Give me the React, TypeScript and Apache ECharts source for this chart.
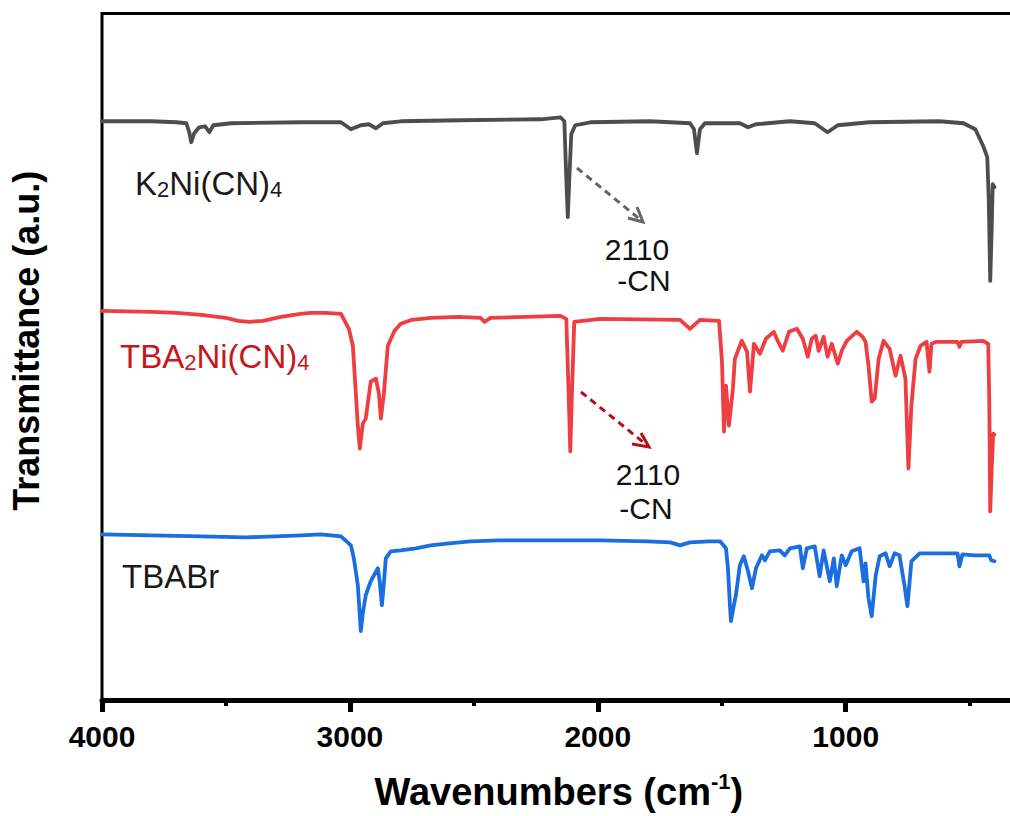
import React, { useEffect, useRef } from "react";
import * as echarts from "echarts";

// Wavenumbers (cm-1) and transmittance (a.u., stacked with offsets)
const k2niWavenumbers = [4000,3801,3700,3660,3648,3640,3628,3608,3584,3567,3551,3479,3197,3036,2996,2956,2924,2895,2867,2795,2553,2231,2151,2135,2127,2121,2115,2107,2091,2030,1789,1628,1612,1600,1588,1568,1427,1394,1362,1225,1125,1073,1032,904,622,525,477,445,429,423,417,411,407,400];
const k2niValues = [580,580,579,578,569,559,568,574,575,569,576,578,579,579,572,576,577,573,578,580,581,582,584,580,522,484,522,567,576,579,580,578,572,548,572,578,578,574,577,580,578,569,576,579,580,578,572,555,544,502,420,472,517,514];

const tbaNiWavenumbers = [4000,3801,3700,3600,3500,3450,3406,3350,3278,3200,3157,3100,3036,3004,2988,2968,2960,2948,2936,2916,2895,2883,2875,2863,2847,2820,2795,2750,2674,2561,2473,2457,2433,2151,2127,2117,2111,2105,2095,1990,1668,1628,1588,1511,1499,1491,1483,1471,1455,1447,1419,1398,1386,1370,1346,1322,1290,1278,1254,1229,1197,1173,1153,1137,1121,1109,1089,1073,1056,1032,1016,996,956,932,920,908,895,883,867,847,823,799,779,759,747,735,718,698,674,662,654,634,549,541,533,445,425,421,417,411,405,400];
const tbaNiValues = [390,389,388,386,383,380,379,380,384,387,388,388,387,372,355,275,252,277,282,319,322,307,282,307,355,370,377,381,383,384,383,379,383,385,382,302,249,302,379,382,381,372,381,380,339,269,315,275,312,342,360,349,309,357,347,362,369,362,350,369,372,362,344,362,365,350,364,344,357,337,350,360,369,364,359,335,299,302,342,360,352,325,345,322,232,295,342,355,359,329,357,359,359,354,359,360,357,302,189,232,267,266];

const tbabrWavenumbers = [4000,3801,3600,3419,3300,3197,3117,3036,2996,2984,2968,2956,2948,2936,2916,2887,2879,2871,2863,2855,2835,2795,2734,2674,2600,2513,2400,2200,1990,1800,1708,1668,1628,1550,1507,1483,1475,1467,1463,1451,1443,1427,1411,1394,1378,1362,1338,1326,1306,1266,1246,1225,1185,1173,1157,1125,1105,1089,1064,1048,1036,1016,1000,976,944,928,920,908,895,879,863,839,823,803,783,763,751,735,702,549,541,529,481,421,413,400];
const tbabrValues = [166,165,164,163,164,165,166,164,155,142,115,69,87,105,119,132,117,95,117,142,149,150,152,155,157,159,160,160,160,159,158,155,158,159,159,152,132,95,79,95,105,135,144,129,112,132,145,140,149,150,145,152,154,132,152,154,124,150,119,142,114,145,135,149,152,119,137,102,84,125,144,147,134,147,145,115,94,139,147,147,134,146,145,145,140,139];

const xMin = 0;
const xMax = 4000;
const xInterval = 1000;
const yMin = 0;
const yMax = 688;

const FONT = "'Liberation Sans', Arial, sans-serif";

function zip(xs: number[], ys: number[]) {
  return xs.map((x, i) => [x, ys[i]]);
}

export default function App() {
  const ref = useRef<HTMLDivElement>(null);

  useEffect(() => {
    if (!ref.current) return;
    const chart = echarts.init(ref.current, undefined, { renderer: "svg" });
    const sub = (size: number, color: string) => ({
      fontSize: size,
      fontFamily: FONT,
      fill: color,
      verticalAlign: "bottom",
      lineHeight: 10,
    });
    const main = (size: number, color: string) => ({
      fontSize: size,
      fontFamily: FONT,
      fill: color,
      lineHeight: 34,
      verticalAlign: "middle",
    });
    const lineCommon = { width: 3.8, join: "round", cap: "round" };
    chart.setOption({
      animation: false,
      backgroundColor: "#ffffff",
      grid: {
        left: 102,
        right: 6.4,
        top: 13.5,
        bottom: 114.5,
        show: true,
        borderColor: "#000",
        borderWidth: 3,
        backgroundColor: "transparent",
      },
      xAxis: {
        type: "value",
        inverse: true,
        min: xMin,
        max: xMax,
        interval: xInterval,
        name: "{t|Wavenumbers (cm}{s|-1}{t|)}",
        nameLocation: "middle",
        nameGap: 70,
        nameTextStyle: {
          padding: [0, 78, 0, 0],
          rich: {
            t: { fontSize: 38, fontWeight: "bold", fontFamily: FONT, color: "#000", lineHeight: 44, verticalAlign: "middle" },
            s: { fontSize: 22, fontWeight: "bold", fontFamily: FONT, color: "#000", lineHeight: 22, verticalAlign: "top" },
          },
        },
        axisLine: { show: true, onZero: false, lineStyle: { color: "#000", width: 5 } },
        axisTick: { show: true, inside: false, length: 12, lineStyle: { color: "#000", width: 5 } },
        minorTick: { show: true, splitNumber: 2, length: 6, lineStyle: { color: "#000", width: 4 } },
        axisLabel: {
          margin: 21,
          fontSize: 30,
          fontWeight: "bold",
          fontFamily: FONT,
          color: "#000",
          formatter: (v: number) => (v === 0 ? "" : String(v)),
        },
        splitLine: { show: false },
      },
      yAxis: {
        type: "value",
        min: yMin,
        max: yMax,
        name: "Transmittance (a.u.)",
        nameLocation: "middle",
        nameGap: 58,
        nameTextStyle: {
          fontSize: 36,
          fontWeight: "bold",
          fontFamily: FONT,
          color: "#000",
          padding: [0, 0, 0, 32],
        },
        axisLine: { show: true, lineStyle: { color: "#000", width: 5 } },
        axisTick: { show: false },
        axisLabel: { show: false },
        splitLine: { show: false },
      },
      series: [
        {
          name: "K2Ni(CN)4",
          type: "line",
          data: zip(k2niWavenumbers, k2niValues),
          showSymbol: false,
          lineStyle: { color: "#4d4d4d", ...lineCommon },
          itemStyle: { color: "#4d4d4d" },
        },
        {
          name: "TBA2Ni(CN)4",
          type: "line",
          data: zip(tbaNiWavenumbers, tbaNiValues),
          showSymbol: false,
          lineStyle: { color: "#ef3e42", ...lineCommon },
          itemStyle: { color: "#ef3e42" },
        },
        {
          name: "TBABr",
          type: "line",
          data: zip(tbabrWavenumbers, tbabrValues),
          showSymbol: false,
          lineStyle: { color: "#1b6ee0", ...lineCommon },
          itemStyle: { color: "#1b6ee0" },
        },
      ],
      graphic: [
        {
          type: "text",
          x: 135,
          y: 183.5,
          style: {
            text: "{m|K}{s|2}{m|Ni(CN)}{s|4}",
            verticalAlign: "middle",
            rich: { m: main(33, "#1a1a1a"), s: sub(22, "#1a1a1a") },
          },
        },
        {
          type: "text",
          x: 120,
          y: 356.5,
          style: {
            text: "{m|TBA}{s|2}{m|Ni(CN)}{s|4}",
            verticalAlign: "middle",
            rich: { m: main(33, "#c8161d"), s: sub(22, "#c8161d") },
          },
        },
        {
          type: "text",
          x: 122,
          y: 576.5,
          style: {
            text: "TBABr",
            verticalAlign: "middle",
            font: "33px 'Liberation Sans', Arial, sans-serif",
            fill: "#1a1a1a",
          },
        },
        {
          type: "text",
          x: 637,
          y: 249,
          style: { text: "2110", align: "center", verticalAlign: "middle", font: "30px 'Liberation Sans', Arial, sans-serif", fill: "#111" },
        },
        {
          type: "text",
          x: 644,
          y: 280,
          style: { text: "-CN", align: "center", verticalAlign: "middle", font: "30px 'Liberation Sans', Arial, sans-serif", fill: "#111" },
        },
        {
          type: "text",
          x: 648,
          y: 474.5,
          style: { text: "2110", align: "center", verticalAlign: "middle", font: "30px 'Liberation Sans', Arial, sans-serif", fill: "#111" },
        },
        {
          type: "text",
          x: 646,
          y: 508.5,
          style: { text: "-CN", align: "center", verticalAlign: "middle", font: "30px 'Liberation Sans', Arial, sans-serif", fill: "#111" },
        },
        {
          type: "line",
          shape: { x1: 577, y1: 168, x2: 642, y2: 221 },
          style: { stroke: "#666", lineWidth: 3, lineDash: [7, 5] },
        },
        {
          type: "polyline",
          shape: { points: [[637, 207], [643, 222], [628, 218]] },
          style: { stroke: "#666", lineWidth: 3, fill: null },
        },
        {
          type: "line",
          shape: { x1: 581, y1: 392, x2: 648, y2: 446 },
          style: { stroke: "#b01016", lineWidth: 3, lineDash: [7, 5] },
        },
        {
          type: "polyline",
          shape: { points: [[641, 433], [649, 447], [632, 444]] },
          style: { stroke: "#b01016", lineWidth: 3, fill: null },
        },
      ],
    });
    return () => chart.dispose();
  }, []);

  return (
    <div style={{ position: "absolute", left: 0, top: 0, width: 1010, height: 816, overflow: "hidden", background: "#fff" }}>
      <div ref={ref} style={{ width: 1100, height: 816 }} />
    </div>
  );
}
